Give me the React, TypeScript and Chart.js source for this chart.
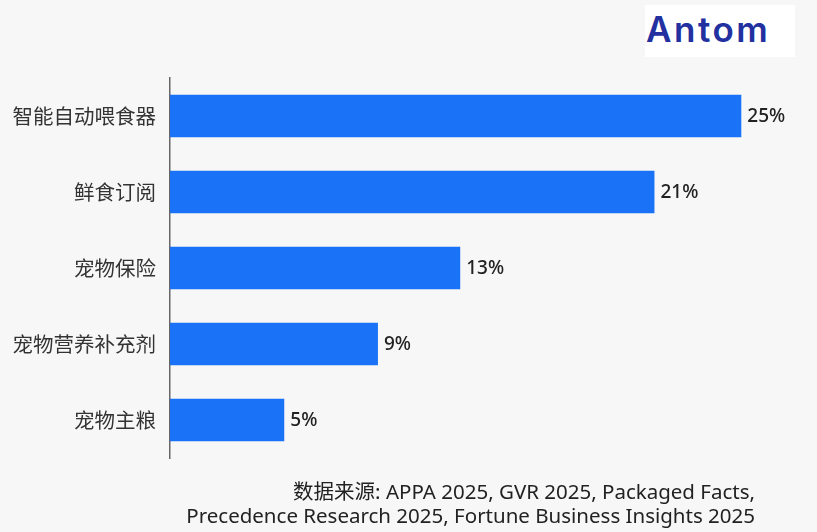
import { useEffect, useRef } from "react";
import { Chart, registerables } from "chart.js";

Chart.register(...registerables);

// categories top to bottom
const categories = ["智能自动喂食器", "鲜食订阅", "宠物保险", "宠物营养补充剂", "宠物主粮"];
// bar lengths (percent)
const growth = [25, 21.2, 12.7, 9.1, 5];
const growthLabels = ["25%", "21%", "13%", "9%", "5%"];
const sourceLines = [
  "数据来源: APPA 2025, GVR 2025, Packaged Facts,",
  "Precedence Research 2025, Fortune Business Insights 2025",
];

const CJK_FONT = "'Noto Sans CJK SC', 'Noto Sans', sans-serif";
const LATIN_FONT = "'Noto Sans', 'Noto Sans CJK SC', sans-serif";

// writes the value at the end of each bar
const barValues = {
  id: "barValues",
  afterDatasetsDraw(chart: any) {
    const { ctx } = chart;
    const meta = chart.getDatasetMeta(0);
    ctx.save();
    ctx.font = `500 19px ${LATIN_FONT}`;
    ctx.fillStyle = "#222";
    ctx.textAlign = "left";
    ctx.textBaseline = "middle";
    meta.data.forEach((bar: any, i: number) => {
      ctx.fillText(growthLabels[i], bar.x + 6, bar.y + 1);
    });
    ctx.restore();
  },
};

export const GrowthChart = () => {
  const canvasRef = useRef<HTMLCanvasElement | null>(null);

  useEffect(() => {
    if (!canvasRef.current) return;
    const chart = new Chart(canvasRef.current, {
      type: "bar",
      data: {
        labels: categories,
        datasets: [
          {
            data: growth,
            backgroundColor: "#1a73f7",
            borderWidth: 0,
            categoryPercentage: 1,
            barPercentage: 0.56,
          },
        ],
      },
      options: {
        indexAxis: "y",
        animation: false,
        responsive: false,
        layout: { padding: { left: 0, right: 30, top: 78, bottom: 74 } },
        plugins: {
          legend: { display: false },
          tooltip: { enabled: false },
        },
        scales: {
          x: {
            display: false,
            min: 0,
            max: 27,
            grid: { display: false },
          },
          y: {
            afterFit: (scale: any) => {
              scale.width = 170;
            },
            grid: { display: false, drawTicks: false },
            border: { display: true, color: "#666", width: 1.5 },
            ticks: {
              padding: 14,
              color: "#333",
              font: { family: CJK_FONT, size: 20.5 },
            },
          },
        },
      },
      plugins: [barValues],
    });
    return () => {
      chart.destroy();
    };
  }, []);

  return <canvas ref={canvasRef} width={817} height={532} />;
};

export default function App() {
  return (
    <div
      style={{
        position: "absolute",
        left: 0,
        top: 0,
        width: 817,
        height: 532,
        background: "#f7f7f7",
        overflow: "hidden",
      }}
    >
      <GrowthChart />
      {/* logo box */}
      <div
        style={{
          position: "absolute",
          left: 645,
          top: 5,
          width: 150,
          height: 52,
          background: "#ffffff",
        }}
      >
        <div
          style={{
            position: "absolute",
            left: 1,
            top: 4,
            fontFamily: "Inter, 'Noto Sans', sans-serif",
            fontWeight: 600,
            fontSize: 35,
            color: "#2230a0",
            letterSpacing: 2.5,
            lineHeight: "40px",
          }}
        >
          Antom
        </div>
      </div>
      {/* source note */}
      <div
        style={{
          position: "absolute",
          right: 62,
          top: 479,
          textAlign: "right",
          fontFamily: LATIN_FONT,
          fontSize: 20.5,
          lineHeight: "24px",
          color: "#222",
          whiteSpace: "nowrap",
        }}
      >
        {sourceLines.map((line) => (
          <div key={line}>{line}</div>
        ))}
      </div>
    </div>
  );
}
